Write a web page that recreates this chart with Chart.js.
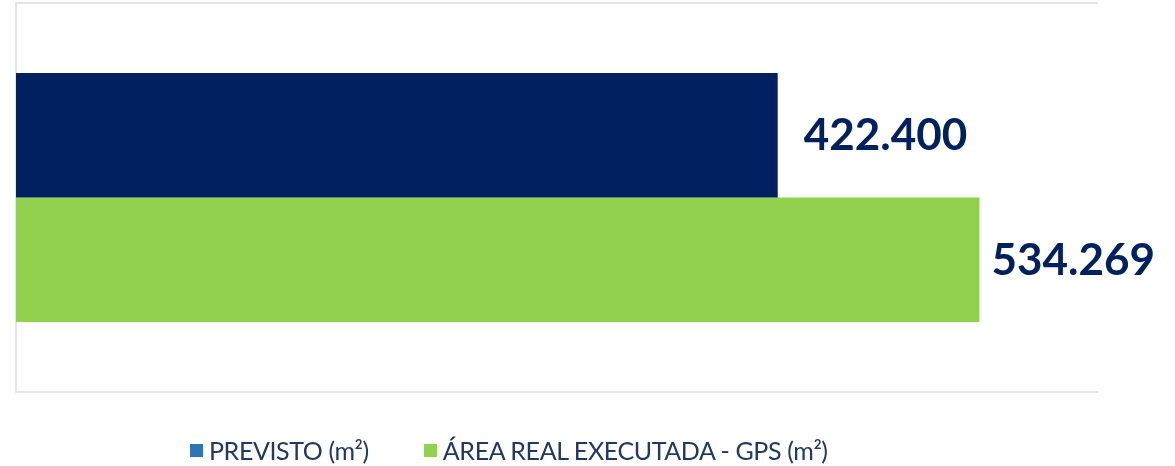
<!DOCTYPE html>
<html lang="pt">
<head>
    <meta charset="UTF-8" />
    <title>Previsto x Área Real Executada</title>
    <script src="https://cdn.jsdelivr.net/npm/chart.js"></script>
    <style>
        body { margin: 0; background: #fff; font-family: Lato, sans-serif; }
        #wrap { position: relative; width: 1175px; height: 466px; }
        #legend { position: absolute; left: 190px; top: 435px; display: flex; align-items: center; gap: 55px; }
        .item { display: flex; align-items: center; font-size: 25px; letter-spacing: -0.4px; color: #1F3864; white-space: nowrap; }
        .box { width: 13px; height: 13px; margin-right: 6px; }
    </style>
</head>
<body>
    <div id="wrap">
        <canvas id="areaChart"></canvas>
        <div id="legend"></div>
    </div>

    <script>
        const categories = [''];
        const seriesNames = ['PREVISTO (m²)', 'ÁREA REAL EXECUTADA - GPS (m²)'];
        const previsto = [422400];
        const areaReal = [534269];
        const axisMax = 600000;

        const barColors = ['#002060', '#92D050'];
        const legendColors = ['#2E75B6', '#92D050'];

        // 422400 -> "422.400"
        function fmt(v) {
            return String(Math.round(v)).replace(/\B(?=(\d{3})+(?!\d))/g, '.');
        }

        const frame = {
            id: 'frame',
            beforeDatasetsDraw(chart) {
                const { ctx, chartArea: a } = chart;
                ctx.save();
                ctx.strokeStyle = '#DCDCDC';
                ctx.lineWidth = 1.5;
                ctx.beginPath();
                ctx.moveTo(a.right, a.top);
                ctx.lineTo(a.left, a.top);
                ctx.lineTo(a.left, a.bottom);
                ctx.lineTo(a.right, a.bottom);
                ctx.stroke();
                ctx.restore();
            }
        };

        // value at the end of each bar, kept inside the canvas
        const valueLabels = {
            id: 'valueLabels',
            afterDatasetsDraw(chart) {
                const { ctx } = chart;
                ctx.save();
                ctx.font = 'bold 44px Lato, sans-serif';
                ctx.fillStyle = '#002060';
                ctx.textAlign = 'left';
                ctx.textBaseline = 'middle';
                chart.data.datasets.forEach((ds, i) => {
                    chart.getDatasetMeta(i).data.forEach((bar, j) => {
                        const txt = fmt(ds.data[j]);
                        const w = ctx.measureText(txt).width;
                        const x = Math.min(bar.x + 26, chart.width - 20 - w);
                        ctx.fillText(txt, x, bar.y + 1);
                    });
                });
                ctx.restore();
            }
        };

        const chart = new Chart(document.getElementById('areaChart'), {
            type: 'bar',
            data: {
                labels: categories,
                datasets: [
                    { label: seriesNames[0], data: previsto, backgroundColor: barColors[0] },
                    { label: seriesNames[1], data: areaReal, backgroundColor: barColors[1] }
                ]
            },
            options: {
                indexAxis: 'y',
                responsive: true,
                maintainAspectRatio: false,
                animation: false,
                categoryPercentage: 0.64,
                barPercentage: 1,
                layout: { padding: { left: 16, top: 3, right: 77, bottom: 74 } },
                scales: {
                    x: { display: false, min: 0, max: axisMax },
                    y: { display: false }
                },
                plugins: {
                    legend: { display: false },
                    tooltip: { enabled: false }
                }
            },
            plugins: [frame, valueLabels]
        });

        // legend below the chart
        const legendEl = document.getElementById('legend');
        chart.data.datasets.forEach((ds, i) => {
            const item = document.createElement('div');
            item.className = 'item';
            const box = document.createElement('span');
            box.className = 'box';
            box.style.background = legendColors[i];
            item.appendChild(box);
            item.appendChild(document.createTextNode(ds.label));
            legendEl.appendChild(item);
        });
    </script>
</body>
</html>
